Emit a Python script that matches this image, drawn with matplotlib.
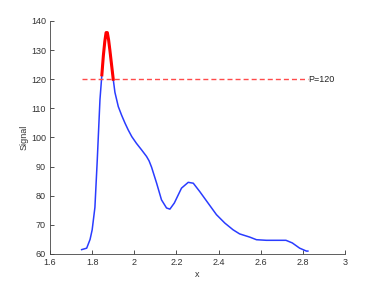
import matplotlib
matplotlib.use("Agg")
import matplotlib.pyplot as plt
import numpy as np

x_vals = [1.750, 1.774, 1.790, 1.800, 1.813, 1.824, 1.837, 1.846, 1.853, 1.860, 1.866, 1.872,
          1.878, 1.884, 1.892, 1.900, 1.908, 1.924, 1.940, 1.956, 1.971, 1.988, 2.010, 2.035,
          2.058, 2.070, 2.082, 2.106, 2.129, 2.153, 2.169, 2.190, 2.224, 2.256, 2.280, 2.310,
          2.350, 2.390, 2.430, 2.469, 2.500, 2.548, 2.580, 2.627, 2.720, 2.750, 2.785, 2.817,
          2.824]
signal = [61.5, 62.0, 65.0, 68.3, 76.0, 92.0, 113.0, 121.5, 128.0, 133.0, 136.0, 136.0,
          133.5, 130.0, 125.0, 120.0, 115.5, 110.6, 107.6, 104.9, 102.6, 100.3, 98.0, 95.7,
          93.5, 92.0, 89.8, 84.3, 78.6, 75.8, 75.4, 77.5, 82.6, 84.6, 84.3, 81.5,
          77.5, 73.5, 70.6, 68.3, 66.9, 65.8, 64.9, 64.7, 64.7, 63.8, 62.0, 61.0,
          61.0]
threshold = 120
label = "P=120"

x = np.array(x_vals)
y = np.array(signal)

plt.rcParams['font.family'] = ['Liberation Sans', 'DejaVu Sans']
fig = plt.figure(figsize=(3.82, 2.87), dpi=100)
ax = fig.add_axes([0.131, 0.115, 0.772, 0.812])

ax.plot(x, y, color='#2a3cff', lw=1.1)
mask = y >= threshold
ax.plot(x[mask], y[mask], color='#ff0000', lw=2.2)
ax.plot([x[0], x[-1]], [threshold, threshold], color='#ff4a4a', lw=1.0,
        dashes=(3.6, 2.2))
ax.text(x[-1] + 0.003, threshold, label, fontsize=6.5, va='center', ha='left', color='#222222')

ax.set_xlim(1.6, 3.0)
ax.set_ylim(60, 140)
ax.set_xticks([1.6, 1.8, 2.0, 2.2, 2.4, 2.6, 2.8, 3.0])
ax.set_xticklabels(['1.6', '1.8', '2', '2.2', '2.4', '2.6', '2.8', '3'])
ax.set_yticks(range(60, 141, 10))
ax.tick_params(direction='in', length=3, labelsize=6.5, colors='#333333', width=0.6, pad=3)
for s in ['top', 'right']:
    ax.spines[s].set_visible(False)
for s in ['left', 'bottom']:
    ax.spines[s].set_linewidth(0.6)
    ax.spines[s].set_color('#444444')
ax.set_xlabel('x', fontsize=6.5, labelpad=2, color='#333333')
ax.set_ylabel('Signal', fontsize=6.5, labelpad=2, color='#333333')

fig.savefig('out.png', dpi=100)
